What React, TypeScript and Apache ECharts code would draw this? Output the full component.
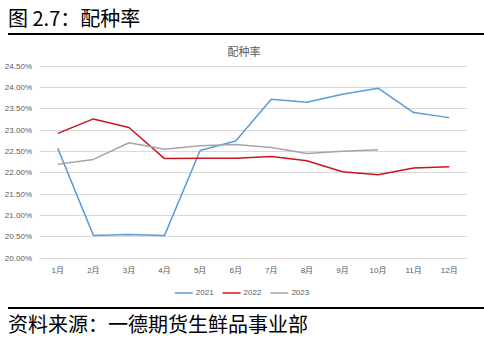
import React, { useEffect, useRef } from "react";
import * as echarts from "echarts";

const months = ["1月", "2月", "3月", "4月", "5月", "6月", "7月", "8月", "9月", "10月", "11月", "12月"];
const s2021 = [22.57, 20.53, 20.55, 20.53, 22.52, 22.74, 23.72, 23.65, 23.84, 23.98, 23.41, 23.29];
const s2022 = [22.92, 23.26, 23.06, 22.33, 22.34, 22.34, 22.38, 22.28, 22.02, 21.95, 22.11, 22.14];
const s2023 = [22.2, 22.31, 22.7, 22.55, 22.63, 22.66, 22.59, 22.45, 22.5, 22.54];
const seriesNames = ["2021", "2022", "2023"];
const colors = ["#5B9BD5", "#C8161D", "#A5A5A5"];
const pageTitle = "图 2.7：配种率";
const chartTitle = "配种率";
const sourceText = "资料来源：一德期货生鲜品事业部";

const labelFont = "'Liberation Sans', 'Noto Sans CJK SC', sans-serif";
const cjkFont = "'Noto Sans CJK SC', sans-serif";

export default function App() {
  const ref = useRef<HTMLDivElement>(null);
  useEffect(() => {
    if (!ref.current) return;
    const chart = echarts.init(ref.current, undefined, { renderer: "svg" });
    const data = [s2021, s2022, s2023];
    chart.setOption({
      animation: false,
      backgroundColor: "#ffffff",
      title: {
        text: chartTitle,
        left: 239,
        textAlign: "center",
        top: 40,
        textStyle: { fontSize: 11, color: "#595959", fontWeight: "normal", fontFamily: cjkFont },
      },
      legend: {
        data: seriesNames.map((n) => ({ name: n, icon: "rect" })),
        left: "center",
        top: 284,
        itemWidth: 18,
        itemHeight: 1.5,
        itemGap: 9,
        textStyle: { fontSize: 8, color: "#595959", fontFamily: labelFont, padding: [0, 0, 0, -2] },
      },
      grid: { left: 40, right: 17, top: 66, bottom: 83, containLabel: false },
      xAxis: {
        type: "category",
        data: months,
        boundaryGap: true,
        axisLine: { show: true, lineStyle: { color: "#D9D9D9", width: 1 } },
        axisTick: { show: false },
        axisLabel: { color: "#595959", fontSize: 8, fontFamily: labelFont, margin: 8 },
      },
      yAxis: {
        type: "value",
        min: 20,
        max: 24.5,
        interval: 0.5,
        axisLine: { show: false },
        axisTick: { show: false },
        splitLine: { lineStyle: { color: "#D9D9D9", width: 1 } },
        axisLabel: {
          color: "#595959",
          fontSize: 8,
          fontFamily: labelFont,
          margin: 8,
          formatter: (v: number) => v.toFixed(2) + "%",
        },
      },
      series: seriesNames.map((name, i) => ({
        name,
        type: "line",
        data: data[i],
        symbol: "none",
        color: colors[i],
        itemStyle: { color: colors[i] },
        lineStyle: { color: colors[i], width: 1.5 },
      })),
      graphic: [
        {
          type: "text",
          left: 8,
          top: 7,
          style: { text: pageTitle, fontSize: 20, fill: "#000", fontFamily: cjkFont },
        },
        {
          type: "rect",
          shape: { x: 8, y: 33, width: 476, height: 2 },
          style: { fill: "#000" },
        },
        {
          type: "rect",
          shape: { x: 8, y: 307, width: 476, height: 2 },
          style: { fill: "#000" },
        },
        {
          type: "text",
          left: 8,
          top: 313,
          style: { text: sourceText, fontSize: 20, fill: "#000", fontFamily: cjkFont },
        },
      ],
    });
    return () => chart.dispose();
  }, []);
  return <div ref={ref} style={{ width: 484, height: 341, position: "absolute", left: 0, top: 0 }} />;
}
